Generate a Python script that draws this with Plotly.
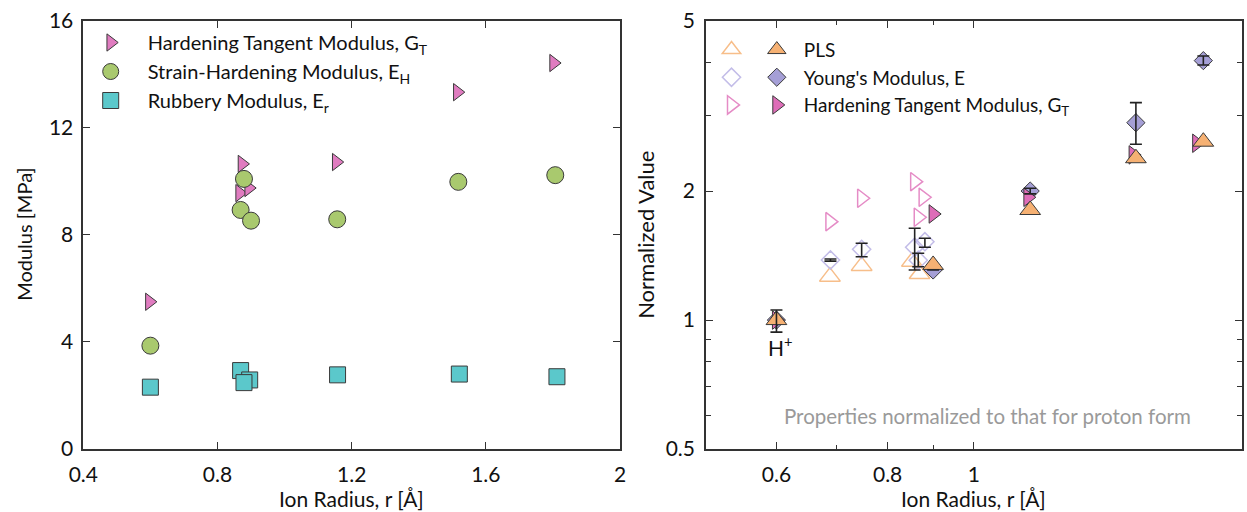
import math
import plotly.graph_objects as go

# ---------------- Left panel data (Modulus vs ion radius) ----------------
gt_r = [0.597, 0.873, 0.866, 0.893, 1.154, 1.515, 1.802]
gt_mod = [5.50, 10.65, 9.56, 9.75, 10.72, 13.33, 14.42]
eh_r = [0.600, 0.879, 0.869, 0.900, 1.157, 1.518, 1.807]
eh_mod = [3.86, 10.09, 8.93, 8.53, 8.58, 9.98, 10.23]
er_r = [0.600, 0.869, 0.896, 0.879, 1.158, 1.521, 1.812]
er_mod = [2.31, 2.93, 2.58, 2.48, 2.77, 2.80, 2.70]

left_xticks = [0.4, 0.8, 1.2, 1.6, 2]
left_xtext = ["0.4", "0.8", "1.2", "1.6", "2"]
left_yticks = [0, 4, 8, 12, 16]
left_ytext = ["0", "4", "8", "12", "16"]

# ---------------- Right panel data (normalized values) ----------------
# filled symbols
f_r = [0.600, 0.900, 1.157, 1.521, 1.811]
pls_f = [1.00, 1.345, 1.807, 2.387, 2.609]
e_f = [1.00, 1.309, 2.001, 2.890, 4.034]
e_f_plus = [0.056, 0.0, 0.030, 0.328, 0.102]
e_f_minus = [0.063, 0.0, 0.030, 0.317, 0.094]
gt_f_r = [0.600, 0.900, 1.150, 1.510, 1.780]
gt_f = [1.00, 1.769, 1.935, 2.430, 2.587]

# open symbols
pls_o_r = [0.689, 0.748, 0.852, 0.869]
pls_o = [1.263, 1.338, 1.369, 1.281]
e_o_r = [0.690, 0.748, 0.858, 0.866, 0.881]
e_o = [1.381, 1.463, 1.479, 1.380, 1.524]
e_o_plus = [0.008, 0.048, 0.159, 0.052, 0.028]
e_o_minus = [0.008, 0.057, 0.170, 0.048, 0.045]
gt_o_r = [0.689, 0.748, 0.858, 0.866, 0.877]
gt_o = [1.697, 1.925, 2.104, 1.738, 1.935]

right_xticks = [0.6, 0.8, 1, 2]
right_xtext = ["0.6", "0.8", "1", "2"]
right_xminor = [0.7, 0.9]
right_yticks = [0.5, 1, 2, 5]
right_ytext = ["0.5", "1", "2", "5"]
right_yminor = [0.6, 0.7, 0.8, 0.9, 3, 4]

FONT = "Lato, 'Open Sans', sans-serif"
EDGE = "#3a3a3a"
AX = "#333333"
TXT = "#111111"

fig = go.Figure()

# ---- left panel traces ----
fig.add_trace(go.Scatter(x=gt_r, y=gt_mod, mode="markers", name="Hardening Tangent Modulus, G<sub>T</sub>",
                         marker=dict(symbol="triangle-right", size=15, color="#E07CC0", line=dict(color=EDGE, width=1)),
                         xaxis="x", yaxis="y", legend="legend"))
fig.add_trace(go.Scatter(x=eh_r, y=eh_mod, mode="markers", name="Strain-Hardening Modulus, E<sub>H</sub>",
                         marker=dict(symbol="circle", size=17, color="#A9C96E", line=dict(color=EDGE, width=1)),
                         xaxis="x", yaxis="y", legend="legend"))
fig.add_trace(go.Scatter(x=er_r, y=er_mod, mode="markers", name="Rubbery Modulus, E<sub>r</sub>",
                         marker=dict(symbol="square", size=16, color="#5BC8CB", line=dict(color=EDGE, width=1)),
                         xaxis="x", yaxis="y", legend="legend"))

# ---- right panel: open symbols ----
fig.add_trace(go.Scatter(x=pls_o_r, y=pls_o, mode="markers", name="",
                         marker=dict(symbol="triangle-up-open", size=18, color="#F7BE8A", line=dict(width=1.5)),
                         xaxis="x2", yaxis="y2", legend="legend3", legendrank=1))
fig.add_trace(go.Scatter(x=e_o_r, y=e_o, mode="markers", name="",
                         marker=dict(symbol="diamond-open", size=14, color="#C3BDE8", line=dict(width=1.5)),
                         xaxis="x2", yaxis="y2", legend="legend3", legendrank=2))
fig.add_trace(go.Scatter(x=gt_o_r, y=gt_o, mode="markers", name="",
                         marker=dict(symbol="triangle-right-open", size=16, color="#E58CC6", line=dict(width=1.5)),
                         xaxis="x2", yaxis="y2", legend="legend3", legendrank=3))
fig.add_trace(go.Scatter(x=e_o_r, y=e_o, mode="markers", showlegend=False, hoverinfo="skip",
                         marker=dict(size=2, opacity=0),
                         error_y=dict(type="data", symmetric=False, array=e_o_plus, arrayminus=e_o_minus,
                                      color="#222222", thickness=1.6, width=6),
                         xaxis="x2", yaxis="y2"))

# ---- right panel: filled symbols ----
fig.add_trace(go.Scatter(x=f_r, y=e_f, mode="markers", name="Young's Modulus, E",
                         marker=dict(symbol="diamond", size=14, color="#A59FD6", line=dict(color=EDGE, width=1)),
                         xaxis="x2", yaxis="y2", legend="legend2", legendrank=2))
fig.add_trace(go.Scatter(x=gt_f_r, y=gt_f, mode="markers", name="Hardening Tangent Modulus, G<sub>T</sub>",
                         marker=dict(symbol="triangle-right", size=16, color="#DE6DB8", line=dict(color=EDGE, width=1)),
                         xaxis="x2", yaxis="y2", legend="legend2", legendrank=3))
fig.add_trace(go.Scatter(x=f_r, y=pls_f, mode="markers", name="PLS",
                         marker=dict(symbol="triangle-up", size=18, color="#F6B173", line=dict(color=EDGE, width=1)),
                         xaxis="x2", yaxis="y2", legend="legend2", legendrank=1))
fig.add_trace(go.Scatter(x=f_r, y=e_f, mode="markers", showlegend=False, hoverinfo="skip",
                         marker=dict(size=2, opacity=0),
                         error_y=dict(type="data", symmetric=False, array=e_f_plus, arrayminus=e_f_minus,
                                      color="#222222", thickness=1.6, width=6),
                         xaxis="x2", yaxis="y2"))

W, H = 1247, 512
L_x0, L_x1 = 83.3 / W, 620 / W
R_x0, R_x1 = 706 / W, 1241.7 / W
Y0, Y1 = 1 - 449 / H, 1 - 20.7 / H

axis_common = dict(showline=True, linecolor=AX, linewidth=1.6, mirror="ticks", ticks="inside",
                   ticklen=7, tickwidth=1.4, tickcolor=AX, showgrid=False, zeroline=False,
                   automargin=False, tickfont=dict(family=FONT, size=21, color=TXT))

fig.update_layout(
    width=W, height=H, margin=dict(l=0, r=0, t=0, b=0, autoexpand=False),
    paper_bgcolor="white", plot_bgcolor="white",
    font=dict(family=FONT, size=19, color=TXT),
    xaxis=dict(domain=[L_x0, L_x1], range=[0.4, 2], tickmode="array", tickvals=left_xticks,
               ticktext=left_xtext, anchor="y", ticklabelstandoff=6, **axis_common),
    yaxis=dict(domain=[Y0, Y1], range=[0, 16], tickmode="array", tickvals=left_yticks,
               ticktext=left_ytext, anchor="x", ticklabelstandoff=4, **axis_common),
    xaxis2=dict(domain=[R_x0, R_x1], type="log", range=[math.log10(0.5), math.log10(2)],
                tickmode="array", tickvals=right_xticks, ticktext=right_xtext, anchor="y2",
                ticklabelstandoff=6,
                minor=dict(tickmode="array", tickvals=right_xminor, ticks="inside", ticklen=4,
                           tickcolor=AX, tickwidth=1.2),
                **axis_common),
    yaxis2=dict(domain=[Y0, Y1], type="log", range=[math.log10(0.5), math.log10(5)],
                tickmode="array", tickvals=right_yticks, ticktext=right_ytext, anchor="x2",
                ticklabelstandoff=5,
                minor=dict(tickmode="array", tickvals=right_yminor, ticks="inside", ticklen=5,
                           tickcolor=AX, tickwidth=1.2),
                **axis_common),
    legend=dict(x=73.7 / W, y=1 - 23 / H, xanchor="left", yanchor="top", bgcolor="rgba(0,0,0,0)",
                font=dict(family=FONT, size=20, color=TXT), itemwidth=64, traceorder="normal"),
    legend2=dict(x=749.8 / W, y=1 - 30.7 / H, xanchor="left", yanchor="top", bgcolor="rgba(0,0,0,0)",
                 font=dict(family=FONT, size=19, color=TXT), itemwidth=44, traceorder="normal"),
    legend3=dict(x=711.5 / W, y=1 - 30.7 / H, xanchor="left", yanchor="top", bgcolor="rgba(0,0,0,0)",
                 font=dict(family=FONT, size=19, color=TXT), itemwidth=30, traceorder="normal"),
    showlegend=True,
)

annots = [
    dict(text="Modulus [MPa]", x=24 / W, y=(Y0 + Y1) / 2, textangle=-90, size=20),
    dict(text="Normalized Value", x=646 / W, y=(Y0 + Y1) / 2, textangle=-90, size=22),
    dict(text="Ion Radius, r [Å]", x=(L_x0 + L_x1) / 2, y=1 - 498 / H, textangle=0, size=21),
    dict(text="Ion Radius, r [Å]", x=(R_x0 + R_x1) / 2, y=1 - 498 / H, textangle=0, size=21),
]
ann_list = []
for a in annots:
    ann_list.append(dict(text=a["text"], x=a["x"], y=a["y"], xref="paper", yref="paper",
                         xanchor="center", yanchor="middle", textangle=a["textangle"], showarrow=False,
                         font=dict(family=FONT, size=a["size"], color=TXT)))
ann_list.append(dict(text="Properties normalized to that for proton form", x=987.6 / W, y=1 - 416 / H,
                     xref="paper", yref="paper", xanchor="center", yanchor="middle", showarrow=False,
                     font=dict(family=FONT, size=20.5, color="#9a9a9a")))
ann_list.append(dict(text="H<sup>+</sup>", x=math.log10(f_r[0]), y=math.log10(e_f[0]), xref="x2", yref="y2",
                     xanchor="center", yanchor="middle", yshift=-26, xshift=4, showarrow=False,
                     font=dict(family=FONT, size=21, color=TXT)))
fig.update_layout(annotations=ann_list)

fig.write_html("out.html")
